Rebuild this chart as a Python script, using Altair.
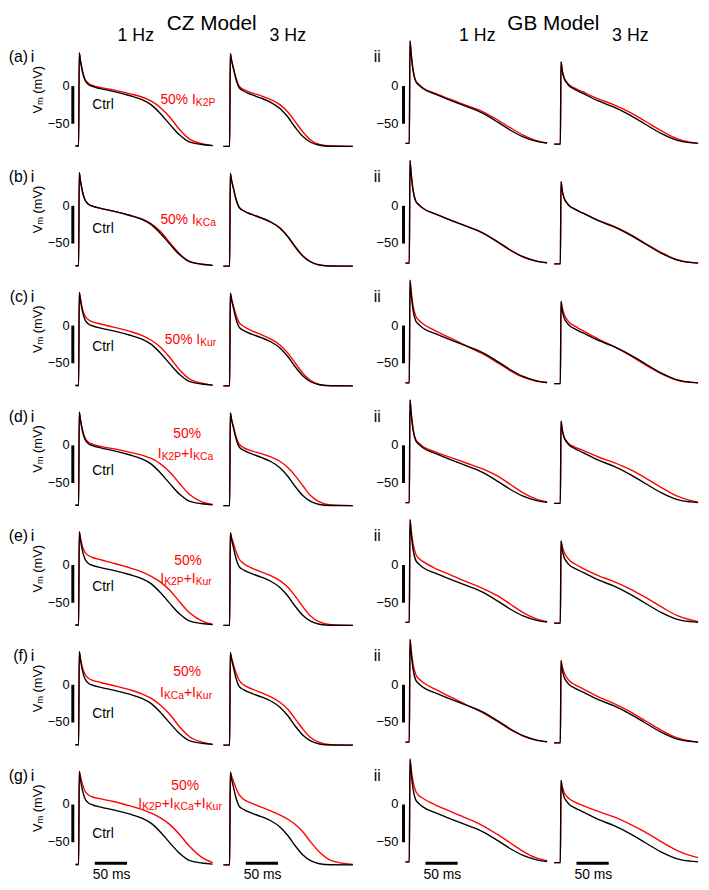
import altair as alt
import pandas as pd

# ---------------- data (time in ms, membrane potential in mV) ----------------
ROWS = ["a", "b", "c", "d", "e", "f", "g"]

T_CZ1 = [-4.9, 0, 1, 2.9, 5.9, 9.8, 14.7, 21.6, 34.3, 53.9, 78.4, 98, 112.7, 127.4, 142.1, 156.8, 171.5, 191.1, 207.8]
T_CZ3 = [-9.8, 0, 1, 2.9, 5.9, 9.8, 14.7, 21.6, 34.3, 49, 63.7, 78.4, 90.2, 101.9, 113.7, 125.4, 139.2, 156.8, 191.1]
T_GB1 = [-5.9, 0, 1, 2.9, 5.9, 9.8, 14.7, 21.6, 39.2, 63.7, 88.2, 112.7, 137.2, 156.8, 176.4, 196, 213.6]
T_GB3 = [-9.8, 0, 1, 2.9, 5.9, 9.8, 14.7, 21.6, 34.3, 58.8, 83.3, 107.8, 132.3, 156.8, 181.3, 200.9, 213.6]

CTRL_CZ1 = [-79.5, -79.5, 44, 33, 19, 8, 2.5, -0.5, -3.5, -7, -12.5, -18, -25, -37, -51.5, -65, -74, -77.5, -79]
CTRL_CZ3 = [-80, -80, 43, 34, 23, 9, -2, -6.5, -11.5, -16, -21.5, -30, -41, -55, -67, -74.5, -78.5, -79.8, -80]
CTRL_GB1 = [-76, -76, 60, 42, 20, 6.5, 1.5, -3.5, -10.5, -19, -27, -35.5, -47.8, -58.6, -67.5, -73, -75.5]
CTRL_GB3 = [-77, -77, 32, 20, 10, 4.3, -0.5, -4, -9.5, -19.8, -28, -38.5, -51, -63, -72, -75, -76]

RED_CZ1 = {
    "a": [-79.5, -79.5, 44, 34, 20.5, 9.5, 4, 1, -2, -5, -10, -14.5, -20, -29, -42, -58, -70, -76.5, -79],
    "b": [-79.5, -79.5, 44, 33, 19, 8, 2.5, -0.5, -3.5, -7, -12.5, -17.5, -24, -34.5, -49.5, -64, -73.5, -77.5, -79],
    "c": [-79.5, -79.5, 44, 36, 22, 13, 8, 5, 2, -2, -7.5, -13, -19.5, -29, -43, -59, -70.5, -76.5, -79],
    "d": [-79.5, -79.5, 44, 34, 21, 10, 4.5, 1.5, -1.5, -4.5, -9, -13, -17.5, -25, -36, -51, -65, -75, -78.5],
    "e": [-79.5, -79.5, 44, 36, 25, 17, 13, 10, 7, 2.5, -3.5, -9, -15, -23, -34, -49, -63, -74, -78.5],
    "f": [-79.5, -79.5, 44, 35, 23, 14, 9, 6, 3, -1, -6.5, -12, -18, -27.5, -40, -56, -68.5, -76, -79],
    "g": [-79.5, -79.5, 44, 37, 27, 18, 13, 10, 7.5, 4, -1.5, -6.5, -11.5, -18, -27, -40, -55, -70, -77],
}
RED_CZ3 = {
    "a": [-80, -80, 43, 35, 24, 11, 0, -4.5, -9, -13, -18, -25, -34.5, -47.5, -61, -71.5, -77.5, -79.5, -80],
    "b": [-80, -80, 43, 34, 23, 9, -2, -6.5, -11.5, -16, -21.5, -29.5, -40.5, -54, -66.5, -74, -78.3, -79.7, -80],
    "c": [-80, -80, 43, 36, 26, 14, 4, -1, -7, -12, -18, -26, -36.5, -50, -63.5, -72.5, -78, -79.7, -80],
    "d": [-80, -80, 43, 35, 25, 12, 1.5, -3, -7.5, -11, -15.5, -21.5, -29.5, -40.5, -54, -66.5, -75, -79, -80],
    "e": [-80, -80, 43, 37, 29, 18, 8, 2, -4, -9, -14, -21, -29.5, -41.5, -55.5, -67.5, -75.5, -79, -80],
    "f": [-80, -80, 43, 36, 27, 16, 6, 0, -5.5, -10.5, -16, -23.5, -32.5, -45.5, -59, -70, -76.5, -79.3, -80],
    "g": [-80, -80, 43, 38, 31, 22, 13, 7, 1.5, -3.5, -8.5, -14, -19.5, -26.5, -36.5, -49.5, -63, -74, -79.5],
}
RED_GB1 = {
    "a": [-76, -76, 60, 43, 21, 7.5, 2.5, -2.5, -9.5, -17.5, -25.5, -33.5, -45, -55.5, -65, -72, -75.5],
    "b": [-76, -76, 60, 42, 20, 6.5, 1.5, -3.5, -10.5, -19, -27, -35.5, -48.3, -59.3, -68, -73.3, -75.5],
    "c": [-76, -76, 60, 45, 26, 13, 7, 2, -6.5, -16.5, -27, -37, -49.5, -60, -68.5, -73.5, -75.5],
    "d": [-76, -76, 60, 43, 21.5, 8, 3, -2, -8.5, -16, -23.5, -31, -41, -52, -63, -71, -75],
    "e": [-76, -76, 60, 46, 28, 15, 9, 4.5, -4, -13, -22, -30.5, -41, -52, -63, -71, -75],
    "f": [-76, -76, 60, 46, 27, 14, 8, 3, -5.5, -16, -26.5, -36.5, -49, -59.5, -68, -73.3, -75.5],
    "g": [-76, -76, 60, 47, 30, 18, 12, 8, 0, -9, -18, -27.5, -40, -51, -62, -70.5, -74.5],
}
RED_GB3 = {
    "a": [-77, -77, 32, 21, 11, 5.5, 1, -2.5, -7.5, -17, -25, -35, -47, -59.5, -70, -74.5, -76],
    "b": [-77, -77, 32, 20, 10, 4.3, -0.5, -4, -9.5, -19.3, -27.3, -37.5, -50, -62, -71.5, -75, -76],
    "c": [-77, -77, 32, 24, 15, 8.5, 3.5, -0.5, -6.5, -18, -28, -39.5, -52.5, -64, -72.5, -75.3, -76],
    "d": [-77, -77, 32, 21, 11, 5.5, 1, -2, -6.5, -15.5, -23, -32, -43.5, -56, -67.5, -73, -75.5],
    "e": [-77, -77, 32, 25, 17, 11, 6, 2, -4, -14, -22, -31.5, -43, -55.5, -67, -72.5, -75],
    "f": [-77, -77, 32, 24, 16, 9.5, 4.5, 0.5, -5, -16, -25, -35.5, -48, -60.5, -70.5, -74.5, -76],
    "g": [-77, -77, 32, 24, 16, 11, 7, 3.5, -1, -9, -16.5, -26, -37, -49.5, -61, -67.5, -70.5],
}

# ---------------- text ----------------
ROW_TAGS = ["(a)", "(b)", "(c)", "(d)", "(e)", "(f)", "(g)"]
HEAD_TITLES = [(0, "CZ Model", 206.4, 81.6), (2, "GB Model", 223.3, 81.6)]
HEAD_FREQ = [(0, "1 Hz", 88.6, 66.5), (1, "3 Hz", 90.1, 66.5),
             (2, "1 Hz", 105.4, 66.5), (3, "3 Hz", 108.5, 66.5)]
Y_TICKS = [0, -50]
Y_TICK_LABELS = ["0", "\u221250"]
Y_TICK_T = {0: -14.0, 2: -17.0}
CTRL_LABEL_V = [-25.2, -30.9, -29.0, -33.6, -29.0, -38.8, -39.2]
DRUG_SEGS = [
    [("50% I", 0), ("K2P", 1)],
    [("50% I", 0), ("KCa", 1)],
    [("50% I", 0), ("Kur", 1)],
    [("I", 0), ("K2P", 1), ("+I", 0), ("KCa", 1)],
    [("I", 0), ("K2P", 1), ("+I", 0), ("Kur", 1)],
    [("I", 0), ("KCa", 1), ("+I", 0), ("Kur", 1)],
    [("I", 0), ("K2P", 1), ("+I", 0), ("KCa", 1), ("+I", 0), ("Kur", 1)],
]
DRUG_SINGLE = {0: (126.8, -18.6), 1: (126.8, -18.6), 2: (133.7, -18.6)}
DRUG_DOUBLE = {3: (168.2, 14.5, 165.9, -11.7), 4: (169.7, 4.9, 166.6, -18.6),
               5: (168.2, 17.1, 166.6, -11.2), 6: (165.1, 25.0, 157.3, 1.0)}

FONT = "Liberation Sans"
RED_C = "#ff0000"
PX_MS = 147 / 225
PX_MV = 110 / 144

ARIAL = {" ": 278, "%": 889, "+": 584, "0": 556, "1": 556, "2": 556, "5": 556,
         "(": 333, ")": 333, "C": 722, "I": 278, "K": 667, "P": 667, "V": 667,
         "a": 556, "u": 556, "r": 333, "m": 833, "s": 500}


def tw(s, size):
    return sum(ARIAL.get(ch, 556) for ch in s) * size / 1000.0


MAIN, SUB = 14, 10.5

STYLES = {
    "title": dict(fontSize=21, align="center"),
    "hz": dict(fontSize=18, align="center"),
    "tag_r": dict(fontSize=16, align="right"),
    "tag_l": dict(fontSize=16, align="left"),
    "tick": dict(fontSize=13, align="right"),
    "vm": dict(fontSize=13, align="left", angle=270),
    "vm_sub": dict(fontSize=9.5, align="left", angle=270, dy=2.5),
    "ctrl": dict(fontSize=14, align="left"),
    "red": dict(fontSize=MAIN, align="left", color=RED_C),
    "red_c": dict(fontSize=MAIN, align="center", color=RED_C),
    "red_sub": dict(fontSize=SUB, align="left", dy=3, color=RED_C),
    "ms": dict(fontSize=14, align="left"),
}

COLS = [
    dict(t=T_CZ1, ctrl=CTRL_CZ1, red=RED_CZ1, dom=[-10, 215], w=147, bar=True),
    dict(t=T_CZ3, ctrl=CTRL_CZ3, red=RED_CZ3, dom=[-10, 215], w=147, bar=False),
    dict(t=T_GB1, ctrl=CTRL_GB1, red=RED_GB1, dom=[-10 - 29 / PX_MS, 215], w=176, bar=True),
    dict(t=T_GB3, ctrl=CTRL_GB3, red=RED_GB3, dom=[-10, 215], w=147, bar=False),
]


def seg_texts(segs, t0, v):
    out = []
    pos = 0.0
    for txt, sub in segs:
        out.append(("red_sub" if sub else "red", t0 + pos / PX_MS, v, txt))
        pos += tw(txt, SUB if sub else MAIN)
    return out


def seg_width(segs):
    return sum(tw(txt, SUB if sub else MAIN) for txt, sub in segs)


def annotations(r, c):
    ann = []
    if r == 0:
        for cc, txt, t, v in HEAD_TITLES:
            if cc == c:
                ann.append(("title", t, v, txt))
        for cc, txt, t, v in HEAD_FREQ:
            if cc == c:
                ann.append(("hz", t, v, txt))
    if c in Y_TICK_T:
        for val, lab in zip(Y_TICKS, Y_TICK_LABELS):
            ann.append(("tick", Y_TICK_T[c], val, lab))
    if c == 0:
        ann.append(("tag_r", -78.3, 37.8, ROW_TAGS[r]))
        ann.append(("tag_l", -74.4, 37.8, "i"))
        wV, wm, wsp, wr = tw("V", 13), tw("m", 9.5), tw(" ", 13), tw("(mV)", 13)
        L = wV + wm + wsp + wr
        t_vm, v_vm = -63.0, -4.9
        start = -L / 2
        ann.append(("vm", t_vm, v_vm + start / PX_MV, "V"))
        ann.append(("vm_sub", t_vm, v_vm + (start + wV) / PX_MV, "m"))
        ann.append(("vm", t_vm, v_vm + (start + wV + wm + wsp) / PX_MV, "(mV)"))
        ann.append(("ctrl", 21.2, CTRL_LABEL_V[r], "Ctrl"))
        segs = DRUG_SEGS[r]
        if r in DRUG_SINGLE:
            t0, v = DRUG_SINGLE[r]
            ann += seg_texts(segs, t0, v)
        else:
            tc1, v1, tc2, v2 = DRUG_DOUBLE[r]
            ann.append(("red_c", tc1, v1, "50%"))
            ann += seg_texts(segs, tc2 - seg_width(segs) / 2 / PX_MS, v2)
    if c == 2:
        ann.append(("tag_l", -55.3, 38.0, "ii"))
    if r == 6:
        ann.append(("ms", 21.9, -94.0, "50 ms"))
    return ann


def panel(r, c):
    col = COLS[c]
    xs = alt.Scale(domain=col["dom"], nice=False, zero=False)
    ys = alt.Scale(domain=[-82, 62], nice=False, zero=False)
    X = alt.X("t:Q", scale=xs, axis=None)
    Y = alt.Y("v:Q", scale=ys, axis=None)
    red_df = pd.DataFrame({"t": col["t"], "v": col["red"][ROWS[r]]})
    ctrl_df = pd.DataFrame({"t": col["t"], "v": col["ctrl"]})
    layers = [
        alt.Chart(red_df).mark_line(color=RED_C, strokeWidth=1.4, interpolate="monotone").encode(x=X, y=Y),
        alt.Chart(ctrl_df).mark_line(color="black", strokeWidth=1.4, interpolate="monotone").encode(x=X, y=Y),
    ]
    if col["bar"]:
        vb = pd.DataFrame({"t": [-9.0], "v": [0.0], "v2": [-50.0]})
        layers.append(alt.Chart(vb).mark_rule(color="black", strokeWidth=3).encode(
            x=X, y=Y, y2="v2:Q"))
    if r == 6:
        hb = pd.DataFrame({"t": [25.0], "t2": [75.0], "v": [-78.0]})
        layers.append(alt.Chart(hb).mark_rule(color="black", strokeWidth=3).encode(
            x=X, x2="t2:Q", y=Y))
    ann = annotations(r, c)
    for style in STYLES:
        rows = [a for a in ann if a[0] == style]
        if not rows:
            continue
        df = pd.DataFrame({"t": [a[1] for a in rows], "v": [a[2] for a in rows],
                           "txt": [a[3] for a in rows]})
        props = dict(STYLES[style])
        props.setdefault("color", "black")
        layers.append(alt.Chart(df).mark_text(font=FONT, baseline="middle", **props).encode(
            x=X, y=Y, text="txt:N"))
    return alt.layer(*layers).properties(width=col["w"], height=110)


panels = [panel(r, c) for r in range(7) for c in range(4)]

chart = alt.concat(*panels, columns=4, spacing={"row": 11.3, "column": 6},
                   bounds="flush", align="each").properties(
    padding=0, background="white").configure_view(strokeWidth=0)

chart.save("out.html", embed_options={"renderer": "svg", "actions": False})
